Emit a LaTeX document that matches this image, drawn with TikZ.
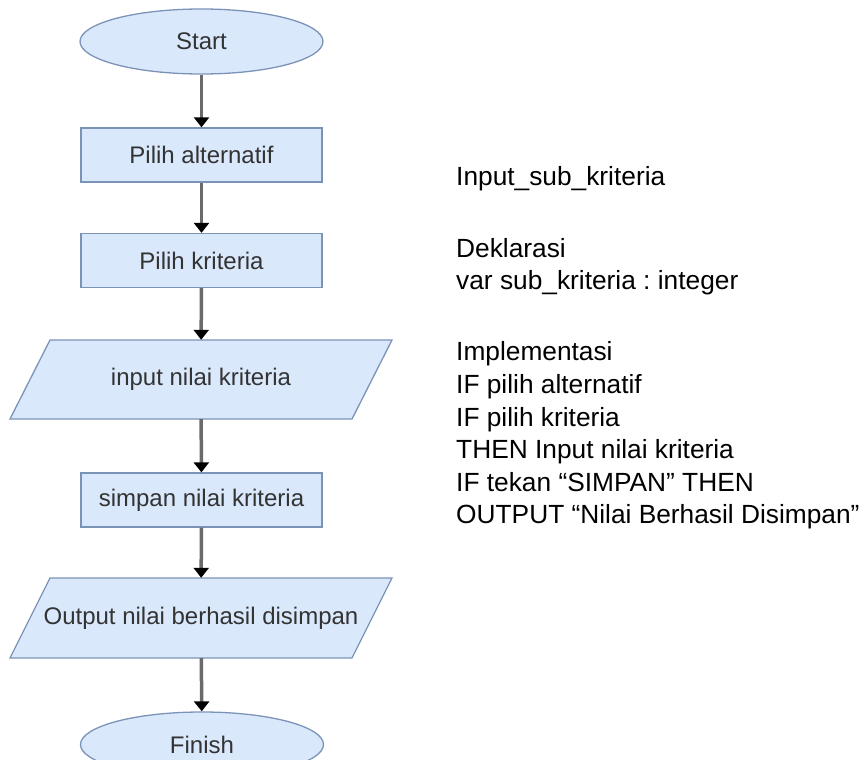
\documentclass[tikz,border=0pt]{standalone}
\usepackage{fontspec}
\setmainfont{Liberation Sans}
\usetikzlibrary{shapes.geometric,arrows.meta}
\frenchspacing

\definecolor{boxfill}{HTML}{DAE8FC}
\definecolor{boxline}{HTML}{7C93B8}
\definecolor{boxtext}{HTML}{333333}
\definecolor{flowline}{HTML}{6A6A6A}

\tikzset{
  base/.style={draw=boxline, fill=boxfill, line width=1.3pt, text=boxtext,
    inner sep=0pt, font=\fontsize{24}{28}\selectfont},
  terminal/.style={base, ellipse, minimum width=243, minimum height=65},
  process/.style={base, rectangle, minimum width=241, minimum height=54},
  iotext/.style={inner sep=0pt, minimum width=342, minimum height=79,
    text=boxtext, font=\fontsize{24}{28}\selectfont},
  iobox/.style={draw=boxline, fill=boxfill, line width=1.3pt},
  flow/.style={draw=flowline, line width=3.5pt,
    -{Triangle[width=15pt, length=10pt, color=black]}},
  code/.style={anchor=base west, inner sep=0pt, text=black,
    font=\fontsize{26.3}{30}\selectfont}
}

\begin{document}
\begin{tikzpicture}[x=1pt, y=-1pt]
  \useasboundingbox (0,0) rectangle (868,760);
  \clip (0,0) rectangle (868,760);

  % flowchart column
  \node[terminal] (start) at (201.5,41.5) {Start};
  \node[process]  (alt)   at (201.5,155)  {Pilih alternatif};
  \node[process]  (krit)  at (201.5,260.5) {Pilih kriteria};

  % input parallelogram: slanted outline behind a text node
  \path[iobox] (50,340) -- (392,340) -- (352,419) -- (10,419) -- cycle;
  \node[iotext] (inp) at (201,379.5) {input nilai kriteria};

  \node[process]  (save)  at (201.5,500)  {simpan nilai kriteria};

  \path[iobox] (50,578) -- (392,578) -- (352,658) -- (10,658) -- cycle;
  \node[iotext, minimum height=80] (out) at (201,618) {Output nilai berhasil disimpan};

  \node[terminal] (fin)   at (202,744.5) {Finish};

  % connectors
  \draw[flow] (start) -- (alt);
  \draw[flow] (alt) -- (krit);
  \draw[flow] (krit) -- (inp);
  \draw[flow] (inp) -- (save);
  \draw[flow] (save) -- (out);
  \draw[flow] (out) -- (fin);

  % pseudocode
  \node[code] (t1) at (456,185) {Input\_sub\_kriteria};
  \node[code] (t2) at (456,257) {Deklarasi};
  \node[code] (t3) at (456,289) {var sub\_kriteria : integer};
  \node[code] (t4) at (456,360) {Implementasi};
  \node[code] (t5) at (456,393) {IF pilih alternatif};
  \node[code] (t6) at (456,426) {IF pilih kriteria};
  \node[code] (t7) at (456,458) {THEN Input nilai kriteria};
  \node[code] (t8) at (456,491) {IF tekan “SIMPAN” THEN};
  \node[code] (t9) at (456,523) {OUTPUT “Nilai Berhasil Disimpan”};
\end{tikzpicture}
\end{document}
